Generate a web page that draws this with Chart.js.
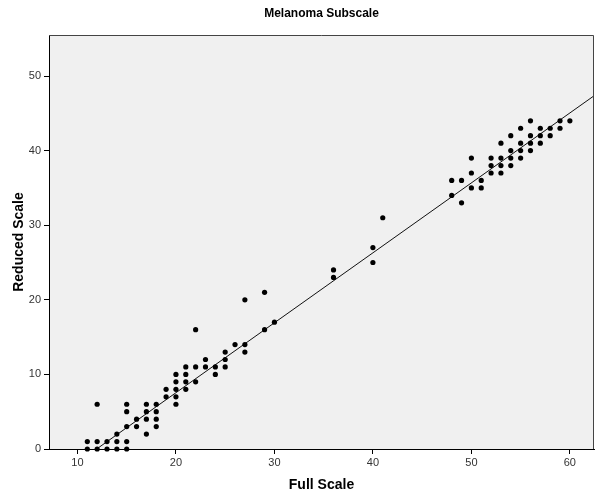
<!DOCTYPE html>
<html>
<head>
<meta charset="utf-8">
<script src="https://cdn.jsdelivr.net/npm/chart.js@4.4.1/dist/chart.umd.min.js"></script>
<style>
  html, body { margin: 0; padding: 0; background: #ffffff; }
  #wrap { width: 601px; height: 497px; }
</style>
</head>
<body>
<div id="wrap"><canvas id="c" width="601" height="497"></canvas></div>
<script>
// Full Scale (x) and Reduced Scale (y) scores
const fullScale = [
  11, 11,
  12, 12, 12,
  13, 13,
  14, 14, 14,
  15, 15, 15, 15, 15,
  16, 16,
  17, 17, 17, 17,
  18, 18, 18, 18,
  19, 19,
  20, 20, 20, 20, 20,
  21, 21, 21, 21,
  22, 22, 22,
  23, 23,
  24, 24,
  25, 25, 25,
  26,
  27, 27, 27,
  29, 29,
  30,
  36, 36,
  40, 40,
  41,
  48, 48,
  49, 49,
  50, 50, 50,
  51, 51,
  52, 52, 52,
  53, 53, 53, 53,
  54, 54, 54, 54,
  55, 55, 55, 55,
  56, 56, 56, 56,
  57, 57, 57,
  58, 58,
  59, 59,
  60
];
const reducedScale = [
  0, 1,
  0, 1, 6,
  0, 1,
  0, 1, 2,
  0, 1, 3, 5, 6,
  3, 4,
  2, 4, 5, 6,
  3, 4, 5, 6,
  7, 8,
  6, 7, 8, 9, 10,
  8, 9, 10, 11,
  9, 11, 16,
  11, 12,
  10, 11,
  11, 12, 13,
  14,
  13, 14, 20,
  16, 21,
  17,
  23, 24,
  25, 27,
  31,
  34, 36,
  33, 36,
  35, 37, 39,
  35, 36,
  37, 38, 39,
  37, 38, 39, 41,
  38, 39, 40, 42,
  39, 40, 41, 43,
  40, 41, 42, 44,
  41, 42, 43,
  42, 43,
  43, 44,
  44
];
// Fit line end points
const fitX = [11.95, 62.4];
const fitY = [0, 47.3];
// Axis ticks
const xTicks = [10, 20, 30, 40, 50, 60];
const yTicks = [0, 10, 20, 30, 40, 50];

const chartTitle = 'Melanoma Subscale';
const xTitle = 'Full Scale';
const yTitle = 'Reduced Scale';

const points = fullScale.map((v, i) => ({ x: v, y: reducedScale[i] }));
const fitLine = fitX.map((v, i) => ({ x: v, y: fitY[i] }));

const frame = {
  id: 'frame',
  beforeDraw(chart) {
    const a = chart.chartArea, ctx = chart.ctx;
    ctx.save();
    ctx.fillStyle = '#f0f0f0';
    ctx.fillRect(a.left, a.top, a.right - a.left, a.bottom - a.top);
    ctx.restore();
  },
  afterDraw(chart) {
    const a = chart.chartArea, ctx = chart.ctx;
    ctx.save();
    ctx.strokeStyle = '#444444';
    ctx.lineWidth = 1;
    ctx.beginPath();
    ctx.moveTo(a.left, a.top + 0.5);
    ctx.lineTo(a.right - 0.5, a.top + 0.5);
    ctx.lineTo(a.right - 0.5, a.bottom);
    ctx.stroke();
    // title centred over plot area
    ctx.fillStyle = '#000000';
    ctx.font = 'bold 12px "Liberation Sans", Arial, sans-serif';
    ctx.textAlign = 'center';
    ctx.textBaseline = 'middle';
    ctx.fillText(chartTitle, (a.left + a.right) / 2, 14);
    ctx.restore();
  }
};

new Chart(document.getElementById('c'), {
  type: 'scatter',
  data: {
    datasets: [
      {
        label: 'Observed',
        data: points,
        backgroundColor: '#000000',
        borderColor: '#000000',
        pointRadius: 2.6,
        pointBorderWidth: 0,
        clip: false
      },
      {
        type: 'line',
        label: 'Fit',
        data: fitLine,
        showLine: true,
        borderColor: '#111111',
        borderWidth: 1,
        pointRadius: 0,
        fill: false
      }
    ]
  },
  options: {
    responsive: false,
    animation: false,
    events: [],
    layout: { padding: { top: 35, right: 7, left: 0, bottom: 0 } },
    plugins: {
      legend: { display: false },
      title: { display: false },
      tooltip: { enabled: false }
    },
    scales: {
      x: {
        type: 'linear',
        min: 7.11,
        max: 62.45,
        afterBuildTicks(scale) { scale.ticks = xTicks.map(v => ({ value: v })); },
        afterFit(scale) { scale.height = 48; },
        grid: { drawOnChartArea: false, drawTicks: true, tickLength: 5, color: '#000000' },
        border: { color: '#000000', width: 1 },
        ticks: { color: '#333333', padding: 2, font: { size: 11, family: '"Liberation Sans", Arial, sans-serif' }, maxRotation: 0 },
        title: { display: true, text: xTitle, color: '#000000', padding: { top: 0, bottom: 3.6 },
                 font: { size: 14, weight: 'bold', family: '"Liberation Sans", Arial, sans-serif' } }
      },
      y: {
        type: 'linear',
        min: 0,
        max: 55.5,
        afterBuildTicks(scale) { scale.ticks = yTicks.map(v => ({ value: v })); },
        afterFit(scale) { scale.width = 49; },
        grid: { drawOnChartArea: false, drawTicks: true, tickLength: 5, color: '#000000' },
        border: { color: '#000000', width: 1 },
        ticks: { color: '#333333', padding: 3, font: { size: 11, family: '"Liberation Sans", Arial, sans-serif' } },
        title: { display: true, text: yTitle, color: '#000000', padding: { top: 10.6, bottom: 0 },
                 font: { size: 14, weight: 'bold', family: '"Liberation Sans", Arial, sans-serif' } }
      }
    }
  },
  plugins: [frame]
});
</script>
</body>
</html>
